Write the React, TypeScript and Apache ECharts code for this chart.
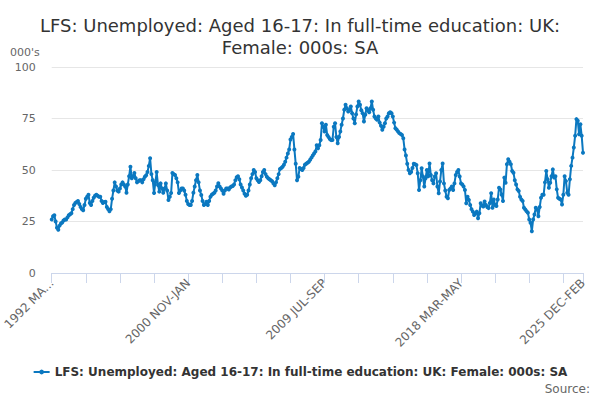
import React, { useEffect, useRef } from "react";
import * as echarts from "echarts";

const TITLE = "LFS: Unemployed: Aged 16-17: In full-time education: UK:\nFemale: 000s: SA";
const SERIES_NAME = "LFS: Unemployed: Aged 16-17: In full-time education: UK: Female: 000s: SA";
const MONTHS = ["JAN", "FEB", "MAR", "APR", "MAY", "JUN", "JUL", "AUG", "SEP", "OCT", "NOV", "DEC"];
const START_YEAR = 1992;
const START_MONTH = 2; // MAR
const Y_TICKS = [0, 25, 50, 75, 100];

const values: number[] = [
  26, 27.5, 28, 25, 22, 21, 23, 24, 24.5, 25.5,
  26, 26, 27, 28, 28.5, 29, 31, 33, 34, 34.5,
  35, 33.5, 32, 31, 30.5, 33, 36, 37, 38, 34,
  33, 35, 36.5, 37.5, 38, 37.5, 37, 37, 35, 34,
  34.5, 34.6, 32, 31, 30, 31, 36, 40, 44, 42,
  40, 39.5, 41, 43, 44, 43, 42, 39, 43, 47,
  51.6, 46, 47, 48.5, 46, 44, 44.5, 45, 45, 44,
  45.5, 46.7, 47.5, 49, 52, 55.7, 48, 45, 38.8, 44,
  49, 42.7, 39.5, 43.5, 41, 39, 41, 43.5, 40, 35.4,
  37, 38.8, 48.5, 48, 47.6, 46, 44, 38.8, 40, 41,
  41, 40, 38, 35, 33.5, 33, 33, 35, 39, 42,
  45, 47.6, 44, 40, 37.9, 35, 33, 33.5, 34.6, 33,
  35, 37, 38, 38.5, 39, 40, 42, 43.6, 42, 41,
  40, 38.5, 40, 41, 41, 40.5, 41.5, 42, 42.2, 43,
  45, 46.5, 47, 45.5, 43, 41.5, 40, 38.5, 37.5, 38,
  40, 43, 46, 48, 50, 49, 46, 45, 44.2, 45,
  47, 49, 50, 48, 46.7, 46, 45.5, 45, 44.5, 43.5,
  42.6, 44, 46, 48, 50.5, 51, 51.6, 52.5, 54, 56,
  58, 60, 64.8, 66, 67.5, 60, 53, 45, 46.7, 51,
  50.5, 50, 51, 52.5, 53, 53.5, 54, 55, 56, 57,
  58, 59, 62, 60.5, 62, 64.6, 72.7, 71, 68.7, 72,
  67, 66, 65, 64.5, 64.6, 71, 72.7, 66, 63, 66,
  68.7, 72, 75, 79.2, 81.7, 80, 78.4, 79, 80.8, 77.6,
  75, 72.7, 77, 80.8, 83.3, 81.7, 79, 77.6, 73.5, 76.8,
  80, 79, 78, 80, 83.3, 79.2, 76, 75, 74.4, 76,
  73, 71.5, 69.5, 71, 72.7, 75, 76, 77.5, 78, 77.6,
  76, 73, 70.3, 69.5, 68.7, 67.9, 67.5, 67, 65.4, 60,
  57, 53, 50, 48.4, 49, 51, 53, 52.8, 52.4, 48.4,
  40.3, 45, 50.8, 46.8, 42, 46, 50, 47, 53.2, 47.6,
  45, 43.5, 46.8, 48.4, 42, 38.7, 44.4, 50, 53.2, 43.5,
  40, 37, 36.3, 40.3, 41, 42, 40.3, 43.5, 47.6, 49,
  50, 46.8, 43.5, 43, 42, 40.3, 33.9, 37, 35.5, 33,
  31, 29.8, 28.2, 29, 29.8, 26.6, 29, 33.9, 32.8, 32.3,
  34.7, 33, 32, 31.5, 34, 38.7, 31.7, 35.7, 33, 32.5,
  35.7, 41.4, 40.6, 38, 35, 46.3, 43.8, 52.8, 55.2, 54,
  52.8, 49.5, 48.7, 45, 43, 40.6, 39.8, 37, 35.7, 35,
  31.7, 30.8, 30, 29.2, 26, 24.4, 20.3, 26, 28.4, 31.7,
  30.8, 27.6, 32, 36.5, 38, 38, 44, 49.5, 45.5, 41.4,
  43.8, 47, 50.3, 46.3, 47, 40.6, 36.5, 36, 35.7, 33.3,
  38, 47, 44.6, 39, 38, 45.5, 52, 56, 60.9, 66.6,
  74.7, 73.9, 67.4, 72.2, 66.6, 58.4,
];

const categories: string[] = values.map((_, i) => {
  const s = START_MONTH + i;
  const year = START_YEAR + Math.floor(s / 12);
  const m = s % 12;
  return `${year} ${MONTHS[m]}-${MONTHS[(m + 2) % 12]}`;
});

const LAST = values.length - 1;
const FONT = "'DejaVu Sans', Verdana, sans-serif";
const COLOR = "#0b78c0";

export default function App() {
  const ref = useRef<HTMLDivElement>(null);
  useEffect(() => {
    if (!ref.current) return;
    const chart = echarts.init(ref.current, undefined, { renderer: "svg" });
    chart.setOption({
      animation: false,
      backgroundColor: "#ffffff",
      textStyle: { fontFamily: FONT },
      title: {
        text: TITLE,
        left: "center",
        top: 9,
        textStyle: { fontFamily: FONT, fontSize: 18, fontWeight: "normal", color: "#333333", lineHeight: 22 },
      },
      grid: { left: 47, right: 17, top: 67, bottom: 127, containLabel: false },
      xAxis: {
        type: "category",
        data: categories,
        boundaryGap: false,
        axisLine: { show: true, lineStyle: { color: "#ccd6eb", width: 1 } },
        axisTick: {
          show: true,
          length: 10,
          interval: (i: number) => i % 26 === 0 || i === LAST,
          lineStyle: { color: "#ccd6eb" },
        },
        axisLabel: {
          interval: (i: number) => i % 104 === 0 || i === LAST,
          rotate: 45,
          color: "#666666",
          fontSize: 12,
          fontFamily: FONT,
          margin: 8,
          formatter: (v: string, i: number) => (i === 0 ? v.slice(0, 7) + "..." : v),
        },
        splitLine: { show: false },
      },
      yAxis: {
        type: "value",
        min: Y_TICKS[0],
        max: Y_TICKS[Y_TICKS.length - 1],
        interval: 25,
        axisLine: { show: false },
        axisTick: { show: false },
        axisLabel: { color: "#666666", fontSize: 11, fontFamily: FONT, margin: 16 },
        splitLine: { lineStyle: { color: "#e6e6e6", width: 1 } },
      },
      legend: {
        show: true,
        bottom: 17,
        left: "center",
        itemWidth: 16,
        itemHeight: 6,
        itemGap: 10,
        textStyle: { fontFamily: FONT, fontSize: 12, fontWeight: "bold", color: "#333333" },
        data: [SERIES_NAME],
      },
      graphic: [
        {
          type: "text",
          left: 10,
          top: 47,
          style: { text: "000's", fill: "#666666", font: `11px ${FONT}` },
        },
        {
          type: "text",
          right: 10,
          top: 383,
          style: { text: "Source:", fill: "#666666", font: `12px ${FONT}` },
        },
      ],
      series: [
        {
          name: SERIES_NAME,
          type: "line",
          data: values,
          color: COLOR,
          symbol: "circle",
          symbolSize: 4,
          showAllSymbol: true,
          lineStyle: { width: 2, color: COLOR },
          itemStyle: { color: COLOR },
        },
      ],
    });
    return () => chart.dispose();
  }, []);
  return <div ref={ref} style={{ position: "fixed", left: 0, top: 0, width: 600, height: 400 }} />;
}
